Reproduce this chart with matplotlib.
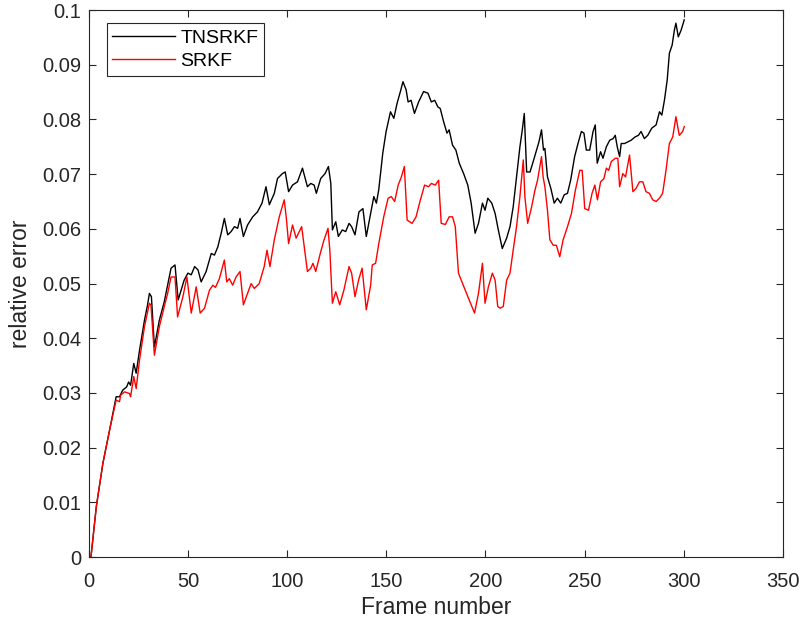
import matplotlib
matplotlib.use("Agg")
import matplotlib.pyplot as plt

# TNSRKF (black) readings: frame number / relative error
tn_frame = [1, 3.7, 7, 10.4, 13.7, 15.4, 17, 19, 20, 21, 22.6, 23.8, 25.5, 28, 29.5, 30.5, 31.5, 33, 35.5, 38,
            41.4, 43.4, 45, 48, 49.9, 51.6, 53.3, 55, 56.6, 59.1, 61.7, 63.3, 65, 66.7, 68.3, 70, 71.7, 73.4, 75,
            76.2, 77.9, 80, 82.6, 85, 87.3, 89.3, 91, 93.5, 95.1, 97.6, 99, 100.7, 102.7, 105.2, 107.7, 110.2,
            111.9, 113.6, 114.7, 116.9, 119.1, 120.8, 122, 122.8, 124.5, 125.8, 127.8, 129.5, 131.2, 132.5, 134.2,
            136.2, 138.2, 139.9, 142.1, 143.7, 145, 146.2, 148.2, 149.9, 152.1, 153.8, 155.4, 157.1, 158.4, 160,
            161, 162.5, 164.2, 166.3, 168.8, 171, 172.7, 174.4, 176, 177.2, 178.9, 180.6, 181.7, 183.4, 185.1,
            186.8, 189, 191.1, 192.8, 194.8, 196.5, 198.5, 199.8, 201.2, 203.2, 204.9, 206.5, 208.5, 210.7, 212.4,
            214, 215.7, 217.4, 218.6, 219.6, 220.8, 222.5, 224.1, 225.8, 227, 228.3, 229.3, 230, 231.3, 233, 234.7,
            236.3, 238, 239.7, 241.4, 243, 245, 246.7, 248.4, 249.7, 250.9, 252.6, 254.3, 255.4, 256.4, 258.1,
            259.3, 261, 262.7, 264.4, 265.5, 266.5, 267.7, 268.5, 270.2, 271.9, 273.5, 275.5, 277.2, 278.5, 280.2,
            281.9, 283.9, 286.1, 287.8, 289, 290.3, 291.7, 292.8, 294.2, 295.3, 296.1, 297.3, 298.7, 300.3]
tn_err = [0, 0.0092, 0.0171, 0.0232, 0.0293, 0.0293, 0.0305, 0.0311, 0.032, 0.0314, 0.0354, 0.0336, 0.0378, 0.0433,
          0.046, 0.0482, 0.0476, 0.0384, 0.0433, 0.0467, 0.0528, 0.0534, 0.047, 0.0506, 0.0519, 0.0516, 0.0531,
          0.0525, 0.0503, 0.0522, 0.0555, 0.0552, 0.0567, 0.0592, 0.0619, 0.0589, 0.0595, 0.0604, 0.0601, 0.0619,
          0.0586, 0.0607, 0.0622, 0.0631, 0.0647, 0.0677, 0.0644, 0.0665, 0.0692, 0.0701, 0.0704, 0.0668, 0.068,
          0.0686, 0.0711, 0.0677, 0.0683, 0.068, 0.0665, 0.0692, 0.0701, 0.0714, 0.0683, 0.0598, 0.0613, 0.0586,
          0.0598, 0.0595, 0.061, 0.0604, 0.0589, 0.0631, 0.0637, 0.0586, 0.0628, 0.0659, 0.0647, 0.0672, 0.0738,
          0.0778, 0.0814, 0.0802, 0.0829, 0.0851, 0.0869, 0.0854, 0.0832, 0.0835, 0.0811, 0.0832, 0.0851, 0.0848,
          0.0832, 0.0835, 0.0823, 0.082, 0.0796, 0.0775, 0.0781, 0.0753, 0.0744, 0.072, 0.0701, 0.068, 0.0647,
          0.0592, 0.061, 0.0647, 0.0634, 0.0656, 0.0647, 0.0628, 0.0598, 0.0564, 0.0583, 0.0604, 0.064, 0.0695,
          0.075, 0.0781, 0.0811, 0.0704, 0.0704, 0.0723, 0.0744, 0.0759, 0.0781, 0.0744, 0.0747, 0.0695, 0.0674,
          0.0647, 0.0656, 0.0647, 0.0662, 0.0665, 0.0689, 0.0732, 0.0756, 0.0778, 0.0775, 0.0744, 0.0744, 0.0778,
          0.079, 0.072, 0.0741, 0.0729, 0.075, 0.0762, 0.0765, 0.0771, 0.075, 0.0732, 0.0756, 0.0756, 0.0759,
          0.0762, 0.0768, 0.0771, 0.0778, 0.0765, 0.0771, 0.0784, 0.079, 0.0814, 0.0808, 0.0835, 0.0872, 0.0921,
          0.0936, 0.0963, 0.0976, 0.0951, 0.0963, 0.0982]

# SRKF (red) readings
sr_frame = [1, 3.7, 7, 10.4, 13.7, 15.4, 16, 17.9, 20.4, 21, 22.6, 23.8, 25.5, 28, 30.5, 31.3, 33, 35.5, 38, 39.7,
            41.4, 43.4, 44.7, 47.4, 49.4, 51.6, 54.1, 56.1, 58.3, 60.8, 62.5, 63.8, 65.8, 68.3, 69.5, 70.8, 72.5,
            74.2, 76.2, 77.9, 80, 81.8, 83.4, 85.9, 88.4, 89.8, 91.3, 93.5, 96, 98.5, 99.5, 100.7, 102.7, 104.5,
            107.3, 110.2, 111.9, 113, 114.4, 116.9, 118.6, 120.6, 121.5, 122.8, 124.5, 126.5, 128.6, 131.2, 132.5,
            134.2, 136.2, 137.8, 139.9, 142.1, 142.9, 144.6, 146.2, 148.7, 150.9, 152.5, 154.2, 156, 157.6, 159.1,
            160.5, 163, 165, 167.2, 169.3, 171.3, 172.7, 174.7, 176.4, 177.7, 179.8, 181.7, 183.4, 184.8, 186.4,
            189.8, 194.5, 196.5, 198.5, 199.8, 201.5, 203.5, 204.9, 206.2, 207.4, 209, 210.7, 212.4, 214, 215.7,
            217.4, 219.1, 219.9, 221.3, 223.3, 225, 226.3, 228.3, 229.1, 230, 231.3, 232.5, 234.2, 235.8, 237.5,
            239.2, 241.4, 243.4, 245.4, 247.6, 248.8, 250.1, 252, 253.8, 255.2, 256.5, 258.1, 259.8, 261, 262.2,
            263.5, 265.5, 266.8, 267.7, 269.3, 270.7, 272.7, 274.4, 276, 277.7, 279.4, 281, 282.7, 284.4, 286.1,
            287.8, 289.4, 291.1, 292.8, 294.5, 296.1, 297.8, 299.5, 300.3]
sr_err = [0, 0.0092, 0.0171, 0.0232, 0.0287, 0.0284, 0.0296, 0.0302, 0.0299, 0.0293, 0.033, 0.0308, 0.036, 0.0421,
          0.0464, 0.046, 0.0369, 0.0421, 0.0458, 0.0482, 0.0512, 0.0512, 0.0439, 0.0476, 0.0512, 0.0446, 0.0494,
          0.0446, 0.0455, 0.0488, 0.0497, 0.0493, 0.0509, 0.0543, 0.0503, 0.0509, 0.0497, 0.0512, 0.0522, 0.0461,
          0.0482, 0.05, 0.0491, 0.05, 0.0531, 0.0561, 0.0531, 0.058, 0.0622, 0.0653, 0.0622, 0.0573, 0.0607,
          0.0583, 0.0604, 0.0522, 0.0528, 0.0537, 0.0522, 0.0558, 0.058, 0.0601, 0.0561, 0.0464, 0.0485, 0.0461,
          0.0488, 0.0531, 0.0519, 0.0476, 0.0509, 0.0528, 0.0452, 0.0497, 0.0534, 0.0537, 0.0573, 0.0622, 0.0656,
          0.0659, 0.065, 0.068, 0.0695, 0.0714, 0.0616, 0.061, 0.0622, 0.0653, 0.068, 0.0677, 0.0683, 0.068,
          0.0689, 0.061, 0.0608, 0.0622, 0.0622, 0.0604, 0.0519, 0.0488, 0.0446, 0.0482, 0.0537, 0.0464, 0.0494,
          0.0519, 0.0506, 0.0458, 0.0455, 0.0458, 0.0506, 0.0519, 0.0561, 0.0604, 0.0659, 0.0726, 0.0659, 0.061,
          0.064, 0.0671, 0.0689, 0.0732, 0.0695, 0.0677, 0.0634, 0.058, 0.057, 0.057, 0.0549, 0.058, 0.0604,
          0.0628, 0.0671, 0.0707, 0.0707, 0.0637, 0.0634, 0.0665, 0.068, 0.0653, 0.0686, 0.0692, 0.0711, 0.0707,
          0.0723, 0.0729, 0.0729, 0.0677, 0.0701, 0.0695, 0.0735, 0.0668, 0.0674, 0.0686, 0.0686, 0.0668, 0.0665,
          0.0653, 0.065, 0.0656, 0.0665, 0.0707, 0.0756, 0.0768, 0.0805, 0.0771, 0.0778, 0.0787]

x_ticks = [0, 50, 100, 150, 200, 250, 300, 350]
y_ticks = [0, 0.01, 0.02, 0.03, 0.04, 0.05, 0.06, 0.07, 0.08, 0.09, 0.1]
y_tick_labels = ['0', '0.01', '0.02', '0.03', '0.04', '0.05', '0.06', '0.07', '0.08', '0.09', '0.1']

plt.rcParams['font.family'] = ['Liberation Sans', 'DejaVu Sans']
grey = '#262626'

fig = plt.figure(figsize=(8.03, 6.28), dpi=100)
ax = fig.add_axes([0.1108, 0.113, 0.864, 0.871])

ax.plot(tn_frame, tn_err, color='black', lw=1.0, label='TNSRKF')
ax.plot(sr_frame, sr_err, color='red', lw=1.0, label='SRKF')

ax.set_xlim(0, 350)
ax.set_ylim(0, 0.1)
ax.set_xticks(x_ticks)
ax.set_yticks(y_ticks)
ax.set_yticklabels(y_tick_labels)
ax.tick_params(direction='in', top=True, right=True, length=5, width=0.8,
               labelsize=14.5, colors=grey)
ax.tick_params(axis='x', pad=10.5)
ax.tick_params(axis='y', pad=5.5)
for s in ax.spines.values():
    s.set_color(grey)
    s.set_linewidth(0.8)

ax.set_xlabel('Frame number', fontsize=16.5, color=grey, labelpad=4)
ax.set_ylabel('relative error', fontsize=16.5, color=grey, labelpad=7)

leg = ax.legend(loc='upper left', bbox_to_anchor=(0.0255, 0.9757), borderaxespad=0, fontsize=14,
                handlelength=3.2, handletextpad=0.3, borderpad=0.3, labelspacing=0.3,
                fancybox=False, edgecolor=grey, framealpha=1)
leg.get_frame().set_linewidth(0.8)

fig.savefig('out.png', dpi=100)
